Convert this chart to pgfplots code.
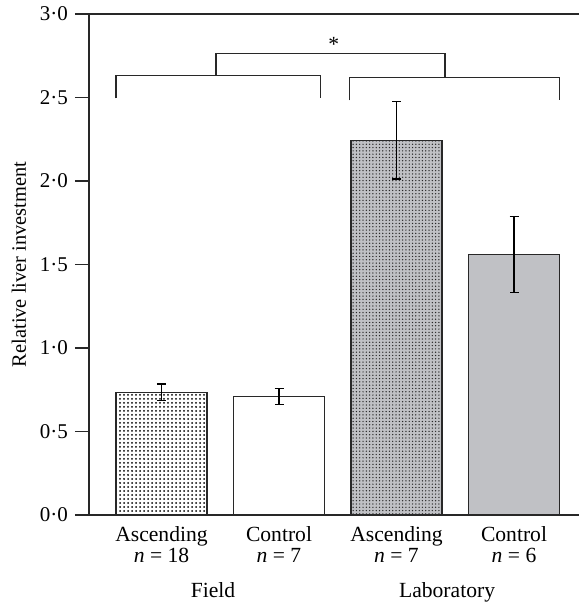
\documentclass[border=0pt]{standalone}
\usepackage{fontspec}
\setmainfont{Liberation Serif}
\usepackage{pgfplots}
\pgfplotsset{compat=1.18}
\usetikzlibrary{patterns.meta}
\definecolor{barGray}{RGB}{192,193,197}
\definecolor{axisc}{RGB}{40,40,40}
\begin{document}
\begin{tikzpicture}
\begin{axis}[
  scale only axis, width=245pt, height=250.5pt,
  xmin=0.383, xmax=4.553, ymin=0, ymax=3,
  axis x line*=bottom, axis y line*=left,
  axis line style={axisc, line width=0.65pt},
  ytick={0,0.5,1,1.5,2,2.5,3},
  yticklabels={0·0,0·5,1·0,1·5,2·0,2·5,3·0},
  yticklabel style={font=\fontsize{10.5}{12}\selectfont},
  ytick align=outside, major tick length=7pt,
  ytick style={axisc, line width=0.65pt},
  xtick={1,2,3,4},
  xticklabels={{Ascending\\\textit{n} = 18},{Control\\\textit{n} = 7},{Ascending\\\textit{n} = 7},{Control\\\textit{n} = 6}},
  xtick style={draw=none},
  xticklabel style={align=center, font=\fontsize{10.8}{10.8}\selectfont, anchor=north, inner sep=0pt, yshift=1.6pt},
  ylabel={Relative liver investment},
  ylabel style={font=\fontsize{10.2}{12}\selectfont},
  ybar, bar width=0.774, bar shift=0pt,
  clip=false,
  error bars/error bar style={black, line width=0.6pt},
  error bars/error mark options={rotate=90, mark size=2.25pt, black, line width=0.6pt},
]
\addplot[preaction={fill=white}, pattern={Dots[distance=2pt,radius=0.5pt]}, pattern color=black, draw=axisc, line width=0.6pt,
  error bars/.cd, y dir=both, y explicit]
  coordinates {(1,0.735) +- (0,0.05)};
\addplot[fill=white, draw=axisc, line width=0.6pt,
  error bars/.cd, y dir=both, y explicit]
  coordinates {(2,0.711) +- (0,0.048)};
\addplot[preaction={fill=barGray}, pattern={Dots[distance=1.65pt,radius=0.36pt]}, pattern color=black!85, draw=axisc, line width=0.6pt,
  error bars/.cd, y dir=both, y explicit]
  coordinates {(3,2.244) +- (0,0.232)};
\addplot[fill=barGray, draw=axisc, line width=0.6pt,
  error bars/.cd, y dir=both, y explicit]
  coordinates {(4,1.559) +- (0,0.229)};
% top line
\draw[axisc, line width=0.65pt] (rel axis cs:0,1) -- (rel axis cs:1,1);
% brackets
\draw[axisc, line width=0.65pt] (axis cs:0.613,2.494) |- (axis cs:2.355,2.632) -- (axis cs:2.355,2.494);
\draw[axisc, line width=0.65pt] (axis cs:2.598,2.482) |- (axis cs:4.386,2.620) -- (axis cs:4.386,2.482);
\draw[axisc, line width=0.65pt] (axis cs:1.464,2.632) |- (axis cs:3.413,2.762) -- (axis cs:3.413,2.620);
\node[anchor=base, font=\fontsize{10.8}{12}\selectfont] at (axis cs:2.465,2.775) {*};
% group labels
\node[anchor=base, font=\fontsize{10.8}{12}\selectfont] at (axis cs:1.438,-0.491) {Field};
\node[anchor=base, font=\fontsize{10.8}{12}\selectfont] at (axis cs:3.430,-0.491) {Laboratory};
% bounding box corners
\coordinate (bbA) at (rel axis cs:-0.1816,-0.1756);
\coordinate (bbB) at (rel axis cs:1,1.0279);
\end{axis}
\pgfresetboundingbox
\useasboundingbox (bbA) rectangle (bbB);
\end{tikzpicture}
\end{document}
